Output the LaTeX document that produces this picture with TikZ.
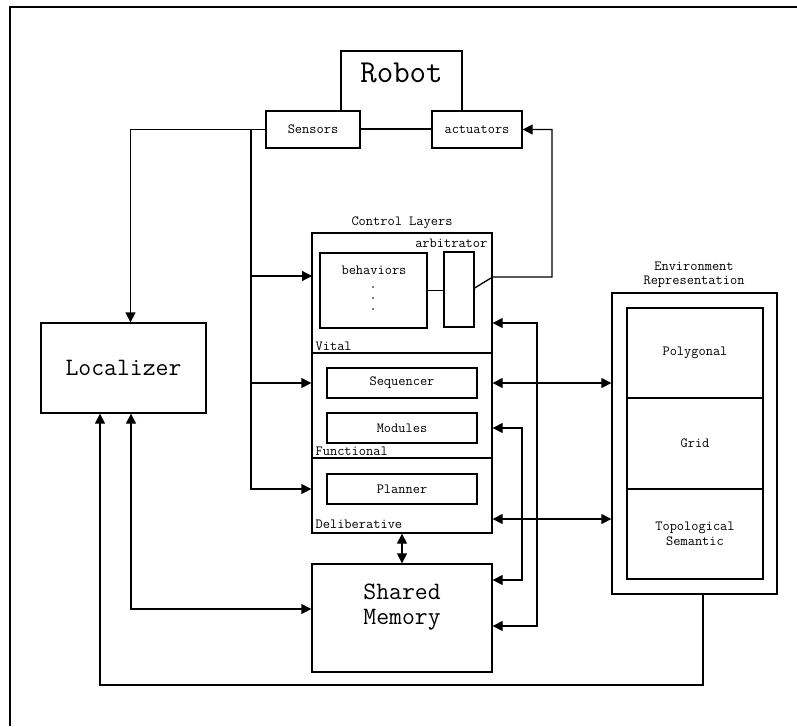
\documentclass[tikz,border=0pt]{standalone}
\usepackage{fontspec}
\usetikzlibrary{arrows.meta}
\begin{document}
\begin{tikzpicture}[x=1pt,y=-1pt,line width=1.3pt,
  box/.style={draw,fill=white,inner sep=0pt,line width=1.3pt},
  lbl/.style={font=\ttfamily\fontsize{14}{14.5}\selectfont,inner sep=0pt},
  big/.style={font=\ttfamily\fontsize{25}{25}\selectfont,inner sep=0pt},
  tipstyle/.tip={Triangle[length=10pt,width=10pt]},
  arr/.style={-tipstyle},
  darr/.style={tipstyle-tipstyle}]

\useasboundingbox (0,0) rectangle (797,726);
% page frame
\draw[line width=1.6pt] (10,726) -- (10,7) -- (797,7);

% robot with its sensors and actuators
\node[box,minimum width=121pt,minimum height=78pt] (robot) at (401.5,90) {};
\node[font=\ttfamily\fontsize{32}{32}\selectfont,inner sep=0pt] (robotlbl) at (401.5,73) {Robot};
\node[box,lbl,minimum width=94pt,minimum height=37pt] (sensors) at (313,129.5) {Sensors};
\node[box,lbl,minimum width=90pt,minimum height=37pt] (actuators) at (477,129.5) {actuators};

% localizer
\node[box,big,minimum width=165pt,minimum height=90pt] (localizer) at (123.5,368) {Localizer};

% control layers
\node[lbl] (ctrllbl) at (402,223) {Control Layers};
\node[box,minimum width=180pt,minimum height=120pt] (vital) at (402,293) {};
\node[box,minimum width=180pt,minimum height=105pt] (functional) at (402,405.5) {};
\node[box,minimum width=180pt,minimum height=75pt] (deliberative) at (402,495.5) {};
\node[lbl,anchor=west] (vitallbl) at (315,346) {Vital};
\node[lbl,anchor=west] (funclbl) at (315,451) {Functional};
\node[lbl,anchor=west] (delilbl) at (315,524) {Deliberative};
\node[lbl,anchor=east] (arblbl) at (488,243) {arbitrator};

\node[box,minimum width=107pt,minimum height=75pt] (behaviors) at (373.5,290.5) {};
\node[lbl] (behlbl) at (374,270) {behaviors};
% vertical ellipsis under the behaviours
\foreach \yy in {287,298,309} \fill (373,\yy) circle (0.9pt);
\node[box,minimum width=30pt,minimum height=75pt] (arbitrator) at (459,289.5) {};

\node[box,lbl,minimum width=150pt,minimum height=30pt] (sequencer) at (402,383) {Sequencer};
\node[box,lbl,minimum width=150pt,minimum height=30pt] (modules) at (402,428) {Modules};
\node[box,lbl,minimum width=150pt,minimum height=30pt] (planner) at (402,489) {Planner};

% environment representation
\node[lbl,align=center] (envlbl) at (694,275) {Environment\\Representation};
\node[box,minimum width=165pt,minimum height=301pt] (env) at (694.5,443.5) {};
\node[box,lbl,minimum width=136pt,minimum height=90pt] (polygonal) at (695,353) {Polygonal};
\node[box,lbl,minimum width=136pt,minimum height=91pt] (grid) at (695,443.5) {Grid};
\node[box,lbl,align=center,minimum width=136pt,minimum height=90pt] (topo) at (695,534) {Topological\\Semantic};

% shared memory
\node[box,minimum width=180pt,minimum height=108pt] (shared) at (402,618) {};
\node[big,align=center] (sharedlbl) at (402,607) {Shared\\Memory};

% sensor lines
\coordinate (tap) at (251,129.5);
\coordinate (inV) at (312,276);
\draw[arr] (sensors.west) -| ([xshift=7pt]localizer.north);
\draw[arr] (tap) |- (inV);
\draw[arr] (tap) |- (functional.west |- sequencer);
\draw[arr] (tap) |- (deliberative.west |- planner);

% behaviours, arbitrator and actuators
\coordinate (up) at (552,277);
\draw (behaviors.east) -- (arbitrator.west |- behaviors.east);
\draw[arr] ([yshift=1.5pt]arbitrator.east) -- (vital.east |- up) -- (up) |- (actuators.east);

% links to shared memory and the environment
\coordinate (r1) at (537,323);
\coordinate (r1b) at (537,626);
\draw[darr] (vital.east |- r1) -- (r1) -- (r1b) -- (shared.east |- r1b);
\coordinate (r2) at (522,428);
\coordinate (r2b) at (522,580);
\draw[darr] (functional.east |- r2) -- (r2) -- (r2b) -- (shared.east |- r2b);
\draw[darr] (functional.east |- sequencer) -- (env.west |- sequencer);
\coordinate (dl) at (560,519);
\draw[darr] (deliberative.east |- dl) -- (env.west |- dl);
\draw[darr] (deliberative.south) -- (shared.north);

% localizer links
\coordinate (lm) at (131,609);
\draw[darr] (localizer.south -| lm) -- (lm) -- (shared.west |- lm);
\coordinate (lp1) at (703,685);
\coordinate (lp2) at (100,685);
\draw[arr] (env.south -| lp1) -- (lp1) -- (lp2) -- (localizer.south -| lp2);
\end{tikzpicture}
\end{document}
